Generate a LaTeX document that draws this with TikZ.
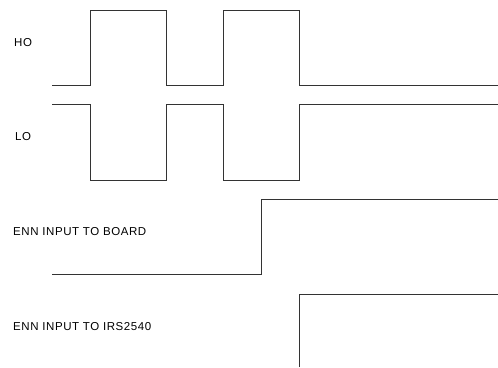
\documentclass[tikz,border=0pt]{standalone}
\usepackage{fontspec}
\setmainfont{Liberation Sans}[LetterSpace=5]
\begin{document}
\begin{tikzpicture}[x=1pt,y=-1pt,
  sig/.style={draw=black!80,line width=1pt,line join=miter},
  lbl/.style={anchor=west,inner sep=0pt,font=\fontsize{11.5}{13}\selectfont}]
\useasboundingbox (0,0) rectangle (498,367);
% labels
\node[lbl] (ho) at (14,43) {HO};
\node[lbl] (lo) at (15,137) {LO};
\node[lbl] (board) at (13,232) {ENN INPUT TO BOARD};
\node[lbl] (irs) at (13,327) {ENN INPUT TO IRS2540};
% HO
\draw[sig] (52,85) -- (90,85) -- (90,10) -- (166,10) -- (166,85) -- (223,85) -- (223,10) -- (299,10) -- (299,85) -- (498,85);
% LO
\draw[sig] (52,104) -- (90,104) -- (90,180) -- (166,180) -- (166,104) -- (223,104) -- (223,180) -- (299,180) -- (299,104) -- (498,104);
% ENN board
\draw[sig] (52,274) -- (261,274) -- (261,199) -- (498,199);
% ENN IRS2540
\draw[sig] (299,367) -- (299,294) -- (498,294);
\end{tikzpicture}
\end{document}
